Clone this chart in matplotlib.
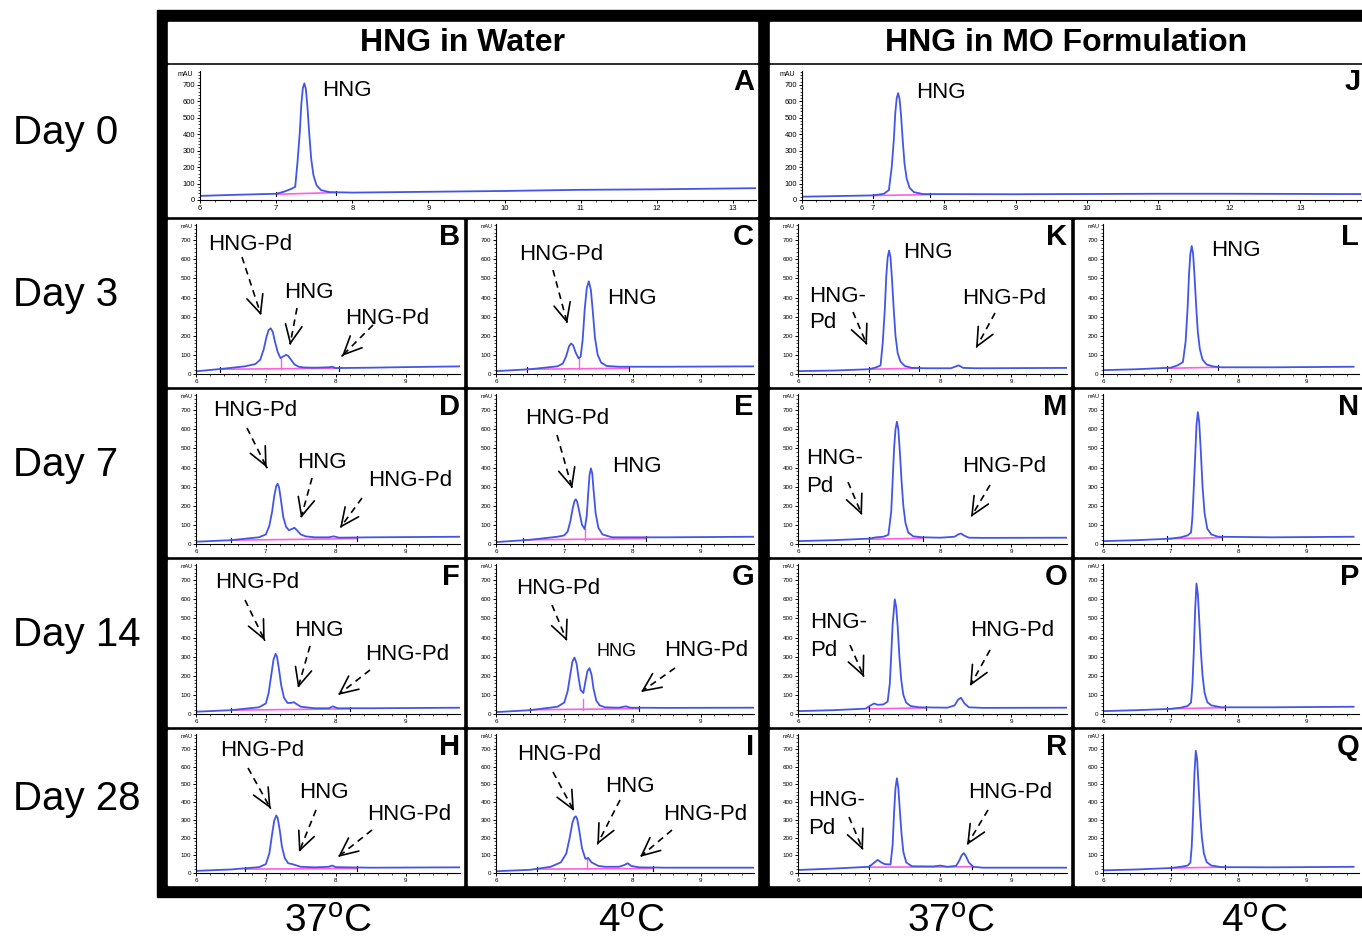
import matplotlib.pyplot as plt
from matplotlib.patches import Rectangle
from matplotlib.ticker import MultipleLocator

plt.rcParams['font.family'] = ['Liberation Sans', 'DejaVu Sans']
plt.rcParams['mathtext.fontset'] = 'custom'
plt.rcParams['mathtext.rm'] = 'Liberation Sans'

# =====================================================
# DATA  (retention time in min, absorbance in mAU)
# =====================================================

# Day 0
t_A = [6.0, 6.5, 7.0, 7.1, 7.2, 7.25, 7.28, 7.31, 7.33, 7.35, 7.37, 7.39, 7.41, 7.435, 7.46, 7.49, 7.53, 7.59, 7.7, 8.0, 9.0, 10.0, 11.0, 12.0, 13.3]
y_A = [25, 32, 38, 50, 68, 80, 230, 410, 580, 680, 710, 675, 570, 400, 250, 150, 90, 60, 48, 45, 50, 55, 62, 65, 72]
t_J = [6.0, 6.5, 7.0, 7.15, 7.22, 7.26, 7.29, 7.31, 7.33, 7.35, 7.37, 7.39, 7.415, 7.44, 7.47, 7.51, 7.57, 7.7, 9.0, 11.0, 12.0, 13.85]
y_J = [20, 24, 28, 38, 60, 200, 370, 530, 620, 650, 615, 520, 360, 220, 130, 75, 48, 36, 35, 38, 38, 36]

# Day 3
t_B = [6.0, 6.4, 6.7, 6.85, 6.92, 6.97, 7.01, 7.04, 7.07, 7.1, 7.13, 7.17, 7.21, 7.25, 7.29, 7.32, 7.36, 7.41, 7.47, 7.55, 7.7, 7.9, 7.95, 8.0, 8.5, 9.0, 9.8]
y_B = [14, 28, 40, 52, 75, 130, 195, 230, 239, 220, 170, 115, 83, 92, 100, 95, 75, 50, 38, 34, 33, 35, 38, 31, 33, 36, 40]
t_C = [6.0, 6.5, 6.9, 6.98, 7.03, 7.07, 7.1, 7.13, 7.17, 7.21, 7.24, 7.27, 7.3, 7.33, 7.36, 7.39, 7.42, 7.45, 7.49, 7.54, 7.62, 7.8, 8.5, 9.8]
y_C = [15, 25, 40, 55, 95, 145, 160, 150, 110, 82, 90, 180, 340, 450, 485, 440, 320, 190, 100, 60, 42, 38, 38, 40]
t_K = [6.0, 6.5, 7.0, 7.1, 7.16, 7.19, 7.22, 7.24, 7.26, 7.28, 7.30, 7.32, 7.345, 7.37, 7.40, 7.44, 7.5, 7.6, 7.8, 8.15, 8.22, 8.26, 8.32, 8.5, 9.8]
y_K = [15, 18, 25, 35, 45, 160, 340, 510, 610, 646, 610, 500, 340, 200, 110, 65, 42, 32, 30, 30, 40, 45, 32, 30, 32]
t_L = [6.0, 6.5, 7.0, 7.1, 7.18, 7.22, 7.25, 7.27, 7.29, 7.31, 7.33, 7.35, 7.375, 7.40, 7.43, 7.47, 7.53, 7.62, 7.75, 8.5, 9.7]
y_L = [20, 25, 33, 45, 62, 170, 350, 520, 630, 670, 630, 520, 360, 220, 130, 75, 50, 40, 35, 35, 38]

# Day 7
t_D = [6.0, 6.5, 6.9, 7.0, 7.05, 7.09, 7.12, 7.15, 7.17, 7.19, 7.22, 7.25, 7.29, 7.33, 7.37, 7.41, 7.45, 7.5, 7.57, 7.7, 7.9, 7.97, 8.05, 8.5, 9.8]
y_D = [12, 20, 35, 50, 95, 170, 250, 305, 315, 295, 220, 140, 90, 72, 78, 85, 70, 50, 40, 35, 35, 40, 33, 35, 38]
t_E = [6.0, 6.5, 6.9, 7.0, 7.05, 7.09, 7.12, 7.15, 7.17, 7.19, 7.22, 7.26, 7.3, 7.33, 7.35, 7.37, 7.39, 7.41, 7.43, 7.46, 7.5, 7.56, 7.7, 8.0, 8.5, 9.8]
y_E = [10, 22, 38, 45, 65, 120, 180, 225, 234, 220, 170, 100, 78, 150, 260, 360, 396, 370, 280, 160, 85, 50, 35, 35, 35, 38]
t_M = [6.0, 6.5, 7.0, 7.1, 7.2, 7.27, 7.31, 7.33, 7.35, 7.37, 7.39, 7.41, 7.43, 7.455, 7.48, 7.51, 7.55, 7.62, 7.75, 8.0, 8.2, 8.25, 8.29, 8.33, 8.4, 8.6, 9.8]
y_M = [15, 20, 28, 35, 38, 48, 170, 330, 500, 600, 640, 600, 490, 330, 200, 110, 60, 40, 35, 33, 38, 50, 55, 45, 33, 32, 33]
t_N = [6.0, 6.5, 7.0, 7.15, 7.25, 7.3, 7.32, 7.34, 7.36, 7.38, 7.40, 7.42, 7.445, 7.47, 7.50, 7.54, 7.6, 7.7, 8.5, 9.7]
y_N = [15, 20, 28, 35, 45, 60, 140, 290, 450, 620, 690, 640, 480, 300, 160, 80, 50, 38, 35, 38]

# Day 14
t_F = [6.0, 6.5, 6.9, 7.0, 7.04, 7.08, 7.11, 7.14, 7.16, 7.19, 7.22, 7.26, 7.31, 7.36, 7.4, 7.44, 7.5, 7.7, 7.9, 7.96, 8.03, 8.5, 9.8]
y_F = [12, 20, 35, 55, 110, 210, 285, 315, 300, 230, 150, 85, 58, 58, 62, 52, 38, 30, 30, 40, 30, 30, 33]
t_G = [6.0, 6.5, 6.9, 7.0, 7.05, 7.09, 7.12, 7.15, 7.18, 7.21, 7.24, 7.28, 7.31, 7.34, 7.37, 7.4, 7.43, 7.47, 7.52, 7.6, 7.8, 7.9, 7.97, 8.5, 9.8]
y_G = [10, 20, 38, 60, 120, 210, 275, 295, 265, 190, 125, 110, 170, 225, 240, 205, 130, 70, 45, 35, 33, 40, 33, 32, 33]
t_O = [6.0, 6.5, 6.95, 7.02, 7.07, 7.12, 7.2, 7.26, 7.29, 7.31, 7.33, 7.36, 7.38, 7.40, 7.425, 7.45, 7.48, 7.52, 7.58, 7.7, 8.1, 8.2, 8.25, 8.29, 8.34, 8.4, 8.6, 9.8]
y_O = [15, 20, 28, 45, 55, 48, 50, 65, 160, 310, 470, 600, 560, 460, 300, 180, 100, 60, 42, 35, 33, 45, 75, 85, 55, 35, 32, 33]
t_P = [6.0, 6.5, 7.0, 7.15, 7.25, 7.3, 7.32, 7.34, 7.36, 7.38, 7.40, 7.42, 7.445, 7.47, 7.50, 7.54, 7.6, 7.75, 8.5, 9.7]
y_P = [15, 20, 27, 33, 42, 60, 150, 320, 540, 683, 630, 500, 330, 200, 110, 62, 45, 35, 35, 38]

# Day 28
t_H = [6.0, 6.5, 6.9, 7.0, 7.05, 7.09, 7.12, 7.15, 7.17, 7.2, 7.23, 7.27, 7.32, 7.38, 7.42, 7.5, 7.7, 7.9, 7.95, 8.0, 8.5, 9.8]
y_H = [12, 20, 33, 50, 110, 220, 295, 325, 310, 240, 150, 85, 55, 50, 45, 35, 32, 35, 42, 33, 30, 32]
t_I = [6.0, 6.5, 6.8, 6.95, 7.03, 7.08, 7.12, 7.15, 7.17, 7.19, 7.22, 7.26, 7.31, 7.35, 7.4, 7.5, 7.6, 7.8, 7.88, 7.93, 7.98, 8.1, 8.5, 9.8]
y_I = [10, 18, 35, 60, 110, 200, 285, 315, 320, 305, 240, 140, 80, 85, 60, 40, 35, 35, 45, 55, 40, 32, 30, 30]
t_R = [6.0, 6.5, 7.0, 7.06, 7.12, 7.17, 7.22, 7.3, 7.33, 7.35, 7.37, 7.39, 7.41, 7.43, 7.455, 7.48, 7.52, 7.6, 7.9, 8.0, 8.1, 8.22, 8.26, 8.3, 8.33, 8.36, 8.4, 8.46, 8.6, 9.8]
y_R = [17, 25, 35, 55, 74, 60, 50, 48, 160, 340, 480, 535, 480, 360, 220, 120, 60, 38, 37, 42, 35, 40, 65, 100, 112, 95, 60, 35, 30, 30]
t_Q = [6.0, 6.5, 7.0, 7.15, 7.25, 7.29, 7.31, 7.33, 7.35, 7.37, 7.39, 7.41, 7.435, 7.46, 7.49, 7.53, 7.6, 7.75, 8.5, 9.7]
y_Q = [15, 20, 28, 35, 42, 58, 150, 330, 560, 690, 640, 500, 330, 200, 110, 62, 42, 33, 32, 35]

# integration baselines (start/end time, start/end mAU)
base_t = {'A': [7.0, 7.78], 'J': [7.0, 7.8], 'B': [6.35, 8.05], 'C': [6.45, 7.95],
          'K': [7.0, 7.7], 'L': [6.95, 7.7], 'D': [6.5, 8.3], 'E': [6.4, 8.2],
          'M': [7.0, 7.75], 'N': [6.95, 7.75], 'F': [6.5, 8.2], 'G': [6.5, 8.1],
          'O': [7.0, 7.8], 'P': [6.95, 7.8], 'H': [6.7, 8.3], 'I': [6.6, 8.3],
          'R': [7.0, 8.45], 'Q': [7.0, 7.8]}
base_y = {'A': [35, 45], 'J': [27, 33], 'B': [25, 30], 'C': [25, 30],
          'K': [25, 30], 'L': [30, 35], 'D': [20, 28], 'E': [22, 28],
          'M': [25, 30], 'N': [28, 33], 'F': [20, 27], 'G': [22, 28],
          'O': [27, 32], 'P': [27, 33], 'H': [22, 25], 'I': [22, 25],
          'R': [33, 35], 'Q': [28, 33]}
# peak split (drop) lines
drop_t = {'B': 7.21, 'C': 7.22, 'E': 7.30, 'G': 7.28, 'I': 7.33}

day_labels = ['Day 0', 'Day 3', 'Day 7', 'Day 14', 'Day 28']
temp_labels = [r'37$^{\mathrm{o}}$C', r'4$^{\mathrm{o}}$C', r'37$^{\mathrm{o}}$C', r'4$^{\mathrm{o}}$C']
group_titles = ['HNG in Water', 'HNG in MO Formulation']
grid_letters = [['B', 'C', 'K', 'L'], ['D', 'E', 'M', 'N'], ['F', 'G', 'O', 'P'], ['H', 'I', 'R', 'Q']]

traces = {'A': (t_A, y_A), 'J': (t_J, y_J), 'B': (t_B, y_B), 'C': (t_C, y_C),
          'K': (t_K, y_K), 'L': (t_L, y_L), 'D': (t_D, y_D), 'E': (t_E, y_E),
          'M': (t_M, y_M), 'N': (t_N, y_N), 'F': (t_F, y_F), 'G': (t_G, y_G),
          'O': (t_O, y_O), 'P': (t_P, y_P), 'H': (t_H, y_H), 'I': (t_I, y_I),
          'R': (t_R, y_R), 'Q': (t_Q, y_Q)}

# peak labels (text, x px, y px, size) and dashed arrows (x0, y0, x1, y1) px
peak_labels = [
    ('HNG', 322, 90, 16), ('HNG', 916, 93, 16),
    ('HNG-Pd', 208, 245, 16), ('HNG', 284, 293, 16), ('HNG-Pd', 345, 318, 16),
    ('HNG-Pd', 519, 255, 16), ('HNG', 607, 298, 16),
    ('HNG-', 809, 296, 16), ('Pd', 809, 323, 16), ('HNG-Pd', 962, 298, 16), ('HNG', 903, 253, 16),
    ('HNG', 1211, 250, 16),
    ('HNG-Pd', 213, 411, 16), ('HNG', 297, 463, 16), ('HNG-Pd', 368, 481, 16),
    ('HNG-Pd', 525, 419, 16), ('HNG', 612, 467, 16),
    ('HNG-', 806, 459, 16), ('Pd', 806, 487, 16), ('HNG-Pd', 962, 466, 16),
    ('HNG-Pd', 215, 583, 16), ('HNG', 294, 630, 16), ('HNG-Pd', 365, 654, 16),
    ('HNG-Pd', 516, 588, 16), ('HNG', 597, 652, 13), ('HNG-Pd', 664, 651, 16),
    ('HNG-', 810, 622, 16), ('Pd', 810, 650, 16), ('HNG-Pd', 970, 631, 16),
    ('HNG-Pd', 220, 751, 16), ('HNG', 299, 793, 16), ('HNG-Pd', 367, 814, 16),
    ('HNG-Pd', 517, 755, 16), ('HNG', 605, 786, 16), ('HNG-Pd', 663, 814, 16),
    ('HNG-', 808, 801, 16), ('Pd', 808, 828, 16), ('HNG-Pd', 968, 792, 16),
]
arrows = [
    (242, 257, 262, 318), (297, 308, 290, 345), (373, 325, 340, 358),
    (553, 270, 568, 326),
    (853, 312, 867, 345), (995, 313, 976, 348),
    (247, 428, 268, 470), (312, 478, 301, 518), (362, 498, 340, 528),
    (557, 435, 573, 491),
    (848, 482, 862, 515), (990, 485, 971, 517),
    (245, 600, 266, 643), (310, 646, 298, 688), (370, 670, 338, 695),
    (552, 605, 567, 641), (675, 668, 641, 692),
    (850, 645, 864, 677), (990, 650, 970, 686),
    (248, 768, 272, 811), (316, 810, 299, 852), (372, 830, 338, 857),
    (553, 772, 574, 811), (620, 800, 596, 847), (672, 830, 640, 857),
    (849, 817, 863, 850), (988, 810, 967, 845),
]

# =====================================================
# LAYOUT (pixels)
# =====================================================

W, H = 1362, 944
row_edges = [(65, 216), (220, 386), (390, 556), (560, 726), (730, 885)]
col_edges = [(168, 463), (468, 757), (770, 1070), (1075, 1362)]
wide_cols = [(168, 757), (770, 1362)]
temp_x = [328, 631, 951, 1254]

fig = plt.figure(figsize=(W / 100, H / 100), dpi=100)


def px_axes(x0, y0, x1, y1):
    return fig.add_axes([x0 / W, 1 - y1 / H, (x1 - x0) / W, (y1 - y0) / H])


bg = px_axes(0, 0, W, H)
bg.set_xlim(0, W)
bg.set_ylim(H, 0)
bg.axis('off')
bg.add_patch(Rectangle((157, 10), W - 157, 887, color='black'))
for (x0, x1) in wide_cols:
    bg.add_patch(Rectangle((x0, 22), x1 - x0, 40, color='white'))
    bg.add_patch(Rectangle((x0, 65), x1 - x0, 151, color='white'))
for (y0, y1) in row_edges[1:]:
    for (x0, x1) in col_edges:
        bg.add_patch(Rectangle((x0, y0), x1 - x0, y1 - y0, color='white'))

BLUE = '#4255e8'
PINK = '#ff5ee0'


def chromatogram(key, x0, x1, ybot, ytop, xmax, fs):
    ax = px_axes(x0, ytop, x1, ybot)
    ax.patch.set_alpha(0)
    ax.set_xlim(6, xmax)
    ax.set_ylim(0, 785)
    bt, by = base_t[key], base_y[key]
    ax.plot(bt, by, color=PINK, lw=1.2)
    ax.plot([bt[0]] * 2, [by[0] - 12, by[0] + 12], color='black', lw=0.8)
    ax.plot([bt[1]] * 2, [by[1] - 12, by[1] + 12], color='black', lw=0.8)
    if key in drop_t:
        ax.plot([drop_t[key]] * 2, [by[0], 80], color=PINK, lw=1)
    t, y = traces[key]
    ax.plot(t, y, color=BLUE, lw=1.3)
    for s in ['top', 'right']:
        ax.spines[s].set_visible(False)
    for s in ['left', 'bottom']:
        ax.spines[s].set_linewidth(0.8)
    ax.set_yticks(range(0, 800, 100))
    ax.set_xticks(range(6, int(xmax) + 1))
    ax.xaxis.set_minor_locator(MultipleLocator(0.2))
    ax.yaxis.set_minor_locator(MultipleLocator(20))
    ax.tick_params(which='major', length=2.5, width=0.7, labelsize=fs, pad=1)
    ax.tick_params(which='minor', length=1.3, width=0.5)
    ax.text(-0.012, 1.0, 'mAU', transform=ax.transAxes, ha='right', va='top', fontsize=fs - 0.5)
    return ax


# Day 0 (wide)
for (cl, cr), key, xmax in zip(wide_cols, ['A', 'J'], [13.3, 13.85]):
    chromatogram(key, cl + 32, cr - 1, 216 - 16, 65 + 6, xmax, 5.5)

# Days 3-28 (grid)
for r, (ct, cb) in enumerate(row_edges[1:]):
    for c, (cl, cr) in enumerate(col_edges):
        chromatogram(grid_letters[r][c], cl + 28, cr - 3, cb - 12, ct + 4, 9.78, 4.5)

# =====================================================
# TEXT OVERLAY
# =====================================================

ov = px_axes(0, 0, W, H)
ov.set_xlim(0, W)
ov.set_ylim(H, 0)
ov.axis('off')
ov.patch.set_alpha(0)

for (x0, x1), title in zip(wide_cols, group_titles):
    ov.text((x0 + x1) / 2, 43, title, ha='center', va='center', fontsize=23, fontweight='bold')

ov.text(757 - 3, 68, 'A', ha='right', va='top', fontsize=21, fontweight='bold')
ov.text(W - 1, 68, 'J', ha='right', va='top', fontsize=21, fontweight='bold')
for r, (ct, cb) in enumerate(row_edges[1:]):
    for c, (cl, cr) in enumerate(col_edges):
        ov.text(cr - 3, ct + 3, grid_letters[r][c], ha='right', va='top', fontsize=21, fontweight='bold')

for (ct, cb), lab in zip(row_edges, day_labels):
    ov.text(13, (ct + cb) / 2 - 8, lab, ha='left', va='center', fontsize=29)

for x, lab in zip(temp_x, temp_labels):
    ov.text(x, 922, lab, ha='center', va='center', fontsize=28)

for txt, x, y, fs in peak_labels:
    ov.text(x, y, txt, ha='left', va='center', fontsize=fs)

for x0, y0, x1, y1 in arrows:
    dx, dy = x1 - x0, y1 - y0
    ov.plot([x0, x1 - 0.1 * dx], [y0, y1 - 0.1 * dy], color='black', lw=1.2, ls=(0, (4, 3)))
    ov.annotate('', xy=(x1, y1), xytext=(x1 - 0.12 * dx, y1 - 0.12 * dy),
                arrowprops=dict(arrowstyle='->,head_length=1.3,head_width=0.6', color='black', lw=1.2))

fig.savefig('out.png', dpi=100)
